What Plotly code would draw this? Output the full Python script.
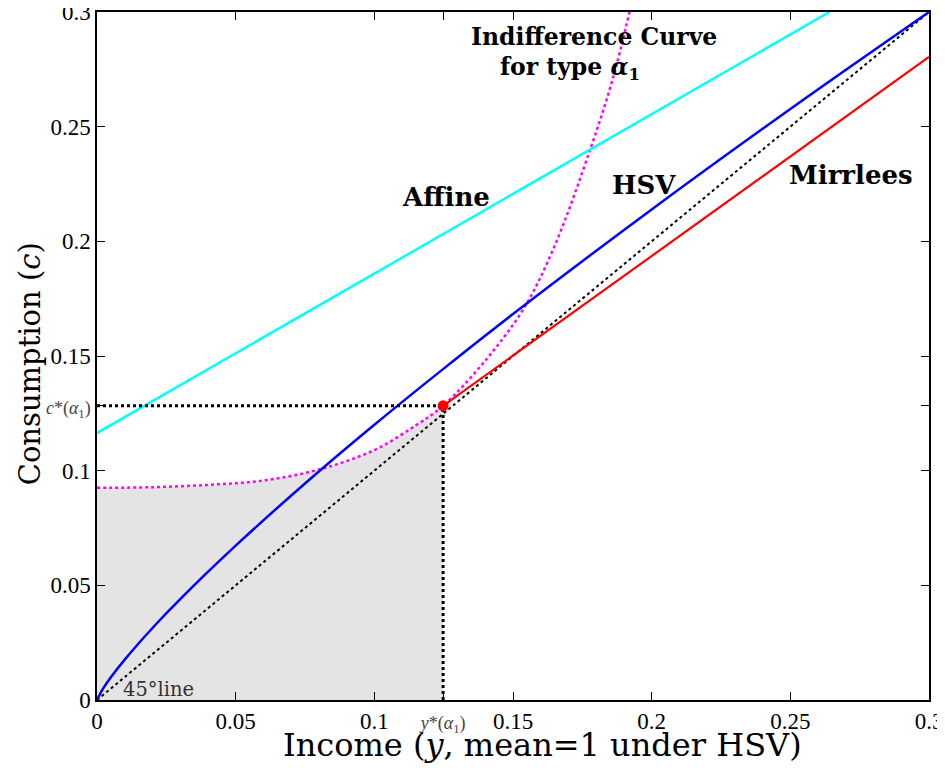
import plotly.graph_objects as go

# ---- data ----
hsv_income = [0, 0.002, 0.005, 0.01, 0.02, 0.03, 0.05, 0.075, 0.1, 0.125, 0.15, 0.2, 0.25, 0.3]
hsv_consumption = [0, 0.0046, 0.0099, 0.0176, 0.0314, 0.0440, 0.0673, 0.0944, 0.1200, 0.1445, 0.1683, 0.2139, 0.2577, 0.300]

affine_income = [0, 0.2641]
affine_consumption = [0.1164, 0.300]

mirrlees_income = [0.1248, 0.3]
mirrlees_consumption = [0.1283, 0.2804]

indiff_income = [0, 0.02, 0.04, 0.06, 0.08, 0.1, 0.115, 0.1248, 0.14, 0.154, 0.165, 0.178, 0.186, 0.192]
indiff_consumption = [0.0925, 0.0928, 0.0938, 0.0957, 0.1005, 0.109, 0.1198, 0.1283, 0.148, 0.171, 0.198, 0.2406, 0.271, 0.300]

line45_income = [0, 0.3]
line45_consumption = [0, 0.3]

y_star = 0.1248
c_star = 0.1283

tick_values = [0, 0.05, 0.1, 0.15, 0.2, 0.25, 0.3]
tick_labels = ["0", "0.05", "0.1", "0.15", "0.2", "0.25", "0.3"]

SERIF = "Liberation Serif"
TEXT = "DejaVu Serif"

fig = go.Figure()

# grey area under the indifference curve up to y*
fill_x = [x for x in indiff_income if x <= y_star]
fill_y = [c for x, c in zip(indiff_income, indiff_consumption) if x <= y_star]
fig.add_trace(go.Scatter(x=fill_x, y=fill_y, mode="lines", line=dict(width=0, shape="spline"),
                         fill="tozeroy", fillcolor="#e4e4e4", hoverinfo="skip", showlegend=False))

fig.add_trace(go.Scatter(x=line45_income, y=line45_consumption, mode="lines",
                         line=dict(color="black", width=2, dash="dot"), showlegend=False))
fig.add_trace(go.Scatter(x=indiff_income, y=indiff_consumption, mode="lines",
                         line=dict(color="#ff00ff", width=2.5, dash="dot", shape="spline"), showlegend=False))
fig.add_trace(go.Scatter(x=affine_income, y=affine_consumption, mode="lines",
                         line=dict(color="#00ffff", width=2.5), showlegend=False))
fig.add_trace(go.Scatter(x=hsv_income, y=hsv_consumption, mode="lines",
                         line=dict(color="#0000ff", width=2.5, shape="spline"), showlegend=False))
fig.add_trace(go.Scatter(x=mirrlees_income, y=mirrlees_consumption, mode="lines",
                         line=dict(color="#ff0000", width=2.2), showlegend=False))
# reference lines to optimum
fig.add_trace(go.Scatter(x=[0, y_star], y=[c_star, c_star], mode="lines",
                         line=dict(color="black", width=3, dash="dot"), showlegend=False))
fig.add_trace(go.Scatter(x=[y_star, y_star], y=[0, c_star], mode="lines",
                         line=dict(color="black", width=3, dash="dot"), showlegend=False))
fig.add_trace(go.Scatter(x=[y_star], y=[c_star], mode="markers",
                         marker=dict(color="#ff0000", size=11), showlegend=False))

special = '<span style="font-size:18px;color:#444444">{}</span>'
xt_vals = tick_values[:3] + [y_star] + tick_values[3:]
xt_text = tick_labels[:3] + [special.format("<i>y</i>*(<i>α</i><sub>1</sub>)")] + tick_labels[3:]
yt_vals = tick_values[:3] + [c_star] + tick_values[3:]
yt_text = tick_labels[:3] + [special.format("<i>c</i>*(<i>α</i><sub>1</sub>)")] + tick_labels[3:]

axis_common = dict(range=[0, 0.3], showgrid=False, zeroline=False, showline=True, linecolor="black",
                   linewidth=1.5, mirror="ticks", ticks="inside", ticklen=8, tickcolor="black",
                   tickwidth=1, automargin=False, ticklabeloverflow="allow",
                   tickfont=dict(family=SERIF, size=23, color="black"))

fig.update_xaxes(**axis_common, tickmode="array", tickvals=xt_vals, ticktext=xt_text)
fig.update_yaxes(**axis_common, tickmode="array", tickvals=yt_vals, ticktext=yt_text)

# axis titles
fig.add_annotation(x=0.536, y=-0.066, xref="paper", yref="paper", text="Income (<i>y</i>, mean=1 under HSV)",
                   showarrow=False, font=dict(family=TEXT, size=32, color="black"),
                   xanchor="center", yanchor="middle")
fig.add_annotation(x=-0.0805, y=0.488, xref="paper", yref="paper", text="Consumption (<i>c</i>)",
                   showarrow=False, textangle=-90, font=dict(family=TEXT, size=29, color="black"),
                   xanchor="center", yanchor="middle")

def label(x, y, text, size, bold=True, color="black"):
    fig.add_annotation(x=x, y=y, xref="x", yref="y", text=f"<b>{text}</b>" if bold else text,
                       showarrow=False, font=dict(family=TEXT, size=size, color=color),
                       xanchor="center", yanchor="middle")

label(0.1792, 0.2893, "Indifference Curve", 23.5)
label(0.1706, 0.2753, "for type <i>α</i><sub>1</sub>", 23.5)
label(0.1259, 0.2195, "Affine", 26)
label(0.1973, 0.2247, "HSV", 26)
label(0.2719, 0.2291, "Mirrlees", 26)
label(0.022, 0.0044, "45°line", 19.5, bold=False, color="#333333")

# the page places the figure 8px in from the top-left corner
fig.update_layout(width=937, height=760, margin=dict(l=89, r=16, t=4, b=68, autoexpand=False),
                  plot_bgcolor="white", paper_bgcolor="white", showlegend=False)

fig.write_html("out.html")
